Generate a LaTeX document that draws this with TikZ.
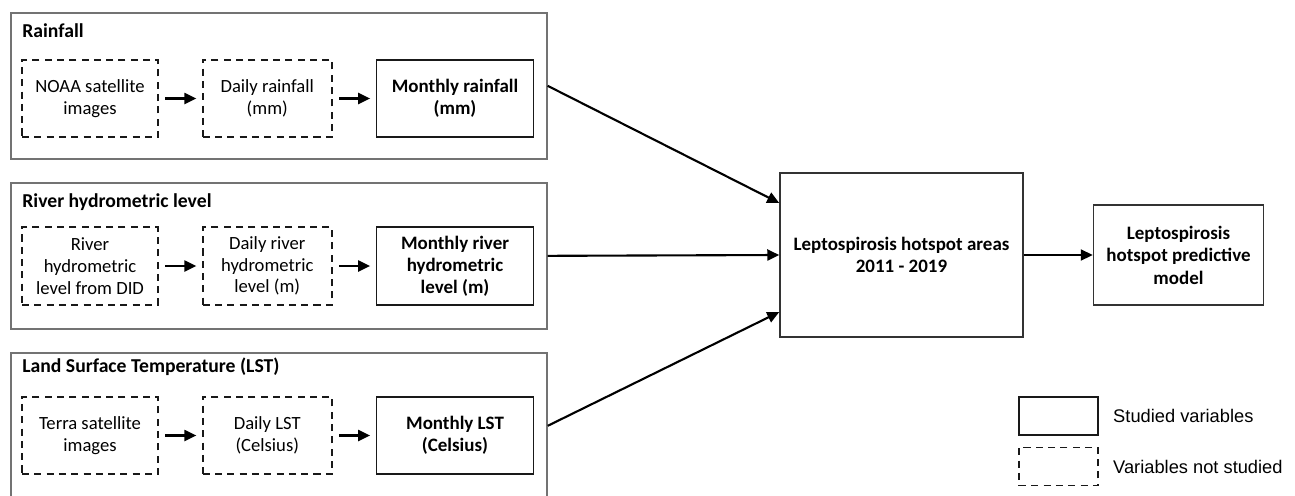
\documentclass[tikz,border=0pt]{standalone}
\usepackage{fontspec}
\setmainfont{Carlito}
\newfontfamily\legendfont{Liberation Sans}
\usepackage{tikz}
\usetikzlibrary{arrows.meta,positioning,calc}

\begin{document}
\begin{tikzpicture}[
  groupbox/.style={draw=black!55, line width=0.95pt, minimum width=10.72cm, minimum height=2.92cm,
    anchor=north west, inner sep=0pt},
  grouptitle/.style={font=\fontsize{11.2}{13}\selectfont\bfseries, anchor=base west, inner sep=0pt},
  varbox/.style={draw=black!90, line width=1pt, minimum height=1.55cm, align=center,
    font=\fontsize{10.6}{12.4}\selectfont},
  notstudied/.style={varbox, dash pattern=on 4pt off 3pt},
  studied/.style={varbox, minimum width=3.14cm, font=\fontsize{10.8}{12.4}\selectfont\bfseries},
  outbox/.style={draw=black!80, line width=0.85pt, align=center,
    font=\fontsize{10.8}{12.8}\selectfont\bfseries},
  legbox/.style={draw=black!90, line width=1pt, minimum width=1.58cm, minimum height=0.76cm},
  legtext/.style={font=\legendfont\fontsize{10.4}{12}\selectfont, anchor=west, inner sep=0pt},
  arr/.style={-{Triangle[length=2.4mm, width=2.2mm]}, line width=1.2pt},
  inarr/.style={arr, shorten <=1.3mm, shorten >=1.1mm},
  node distance=0.86cm,
]
\useasboundingbox (0,0) rectangle (25.9,-9.9);

% ===== Group frames =====
\node[groupbox] (g1) at (0.2,-0.24) {};
\node[groupbox] (g2) at (0.2,-3.64) {};
\node[groupbox] (g3) at (0.2,-7.04) {};

\node[grouptitle] (t1) at (0.44,-0.76) {Rainfall};
\node[grouptitle] (t2) at (0.44,-4.14) {River hydrometric level};
\node[grouptitle] (t3) at (0.44,-7.44) {Land Surface Temperature (LST)};

% ===== Rainfall =====
\node[notstudied, minimum width=2.72cm] (r1) at (1.8,-1.97) {NOAA satellite\\images};
\node[notstudied, minimum width=2.58cm, right=of r1] (r2) {Daily rainfall\\(mm)};
\node[studied, right=of r2] (r3) {Monthly rainfall\\(mm)};

\draw[inarr] (r1) -- (r2);
\draw[inarr] (r2) -- (r3);

% ===== River hydrometric level =====
\node[notstudied, minimum width=2.72cm] (h1) at (1.8,-5.32) {River\\hydrometric\\level from DID};
\node[notstudied, minimum width=2.58cm, right=of h1] (h2) {Daily river\\hydrometric\\level (m)};
\node[studied, right=of h2] (h3) {Monthly river\\hydrometric\\level (m)};

\draw[inarr] (h1) -- (h2);
\draw[inarr] (h2) -- (h3);

% ===== Land surface temperature =====
\node[notstudied, minimum width=2.72cm] (l1) at (1.8,-8.71) {Terra satellite\\images};
\node[notstudied, minimum width=2.58cm, right=of l1] (l2) {Daily LST\\(Celsius)};
\node[studied, right=of l2] (l3) {Monthly LST\\(Celsius)};

\draw[inarr] (l1) -- (l2);
\draw[inarr] (l2) -- (l3);

% ===== Hotspots and model =====
\node[outbox, minimum width=4.86cm, minimum height=3.28cm] (hot) at (18.03,-5.1)
  {Leptospirosis hotspot areas\\2011 - 2019};
\node[outbox, minimum width=3.4cm, minimum height=2cm, right=1.38cm of hot] (pred)
  {Leptospirosis\\hotspot predictive\\model};

\draw[arr] (g1.east) -- ($(hot.west)+(0,1.04)$);
\draw[arr] (g2.east) -- (hot.west);
\draw[arr] (g3.east) -- ($(hot.west)+(0,-1.14)$);
\draw[arr] (hot) -- (pred);

% ===== Legend =====
\node[legbox] (lgs) at (21.17,-8.32) {};
\node[legbox, dash pattern=on 4pt off 3pt] (lgn) at (21.17,-9.33) {};
\node[legtext, right=0.28cm of lgs] (lgst) {Studied variables};
\node[legtext, right=0.28cm of lgn] (lgnt) {Variables not studied};

\end{tikzpicture}
\end{document}
